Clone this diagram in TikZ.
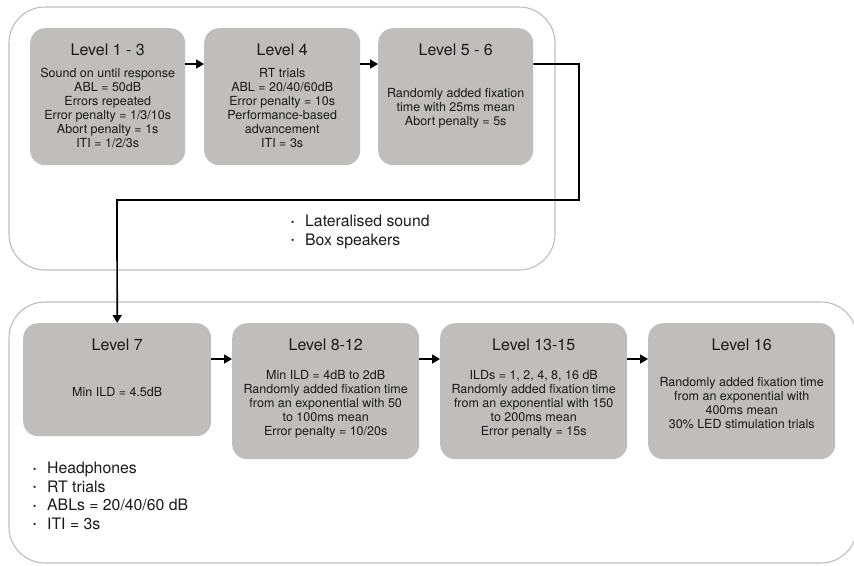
\documentclass[tikz,border=0pt]{standalone}
\usepackage{fontspec}
\setmainfont{TeX Gyre Heros}
\usetikzlibrary{arrows.meta}
\definecolor{boxgray}{HTML}{BFBEBD}
\definecolor{contgray}{HTML}{BDBDBD}
\definecolor{txt}{HTML}{1A1A1A}
\tikzset{
  lvl/.style={draw=none, fill=boxgray, rounded corners=15pt, anchor=north west, inner sep=0pt},
  ttl/.style={text=txt, font=\fontsize{16}{18}\selectfont, inner sep=0pt},
  body/.style={text=txt, font=\fontsize{12.5}{14}\selectfont, align=center, inner sep=0pt},
  cont/.style={draw=contgray, line width=1.1pt, rounded corners=36pt},
  arr/.style={draw=black, line width=1.7pt, -{Triangle[length=8pt,width=9pt]}},
  blt/.style={text=txt, font=\fontsize{15.8}{18.5}\selectfont, align=left, anchor=north west, inner sep=0pt},
}
\newcommand{\bl}{\makebox[14pt][l]{\fontsize{9}{9}\selectfont\raisebox{1.5pt}{•}}}
\begin{document}
\begin{tikzpicture}[x=1pt,y=-1pt]
\path[use as bounding box] (0,0) rectangle (854,565);
\clip (0,0) rectangle (854,565);
\fill[white] (0,0) rectangle (854,565);
% containers
\draw[cont] (9,7) rectangle (555,270);
\draw[cont] (9,302) rectangle (857,563);
% top boxes
\node[lvl, minimum width=155pt, minimum height=137pt] (l13) at (30,28) {};
\node[lvl, minimum width=156pt, minimum height=137pt] (l4) at (204,28) {};
\node[lvl, minimum width=155pt, minimum height=137pt] (l56) at (378,28) {};
\node[ttl] (t13) at ([yshift=-22pt]l13.north) {Level 1 - 3};
\node[ttl] (t4) at ([yshift=-22pt]l4.north) {Level 4};
\node[ttl] (t56) at ([yshift=-22pt]l56.north) {Level 5 - 6};
\node[body] (b13) at ([yshift=-80pt]l13.north) {Sound on until response\\ABL = 50dB\\Errors repeated\\Error penalty = 1/3/10s\\Abort penalty = 1s\\ITI = 1/2/3s};
\node[body] (b4) at ([yshift=-80pt]l4.north) {RT trials\\ABL = 20/40/60dB\\Error penalty = 10s\\Performance-based\\advancement\\ITI = 3s};
\node[body] (b56) at ([yshift=-80pt]l56.north) {Randomly added fixation\\time with 25ms mean\\Abort penalty = 5s};
% bottom boxes
\node[lvl, minimum width=188pt, minimum height=113pt] (l7) at (23,323) {};
\node[lvl, minimum width=187pt, minimum height=136pt] (l812) at (232,323) {};
\node[lvl, minimum width=187pt, minimum height=136pt] (l1315) at (440,323) {};
\node[lvl, minimum width=187pt, minimum height=136pt] (l16) at (648,323) {};
\node[ttl] (t7) at ([yshift=-22pt]l7.north) {Level 7};
\node[ttl] (t812) at ([yshift=-22pt]l812.north) {Level 8-12};
\node[ttl] (t1315) at ([yshift=-22pt]l1315.north) {Level 13-15};
\node[ttl] (t16) at ([yshift=-22pt]l16.north) {Level 16};
\node[body] (b7) at ([yshift=-69pt]l7.north) {Min ILD = 4.5dB};
\node[body] (b812) at ([yshift=-81pt]l812.north) {Min ILD = 4dB to 2dB\\Randomly added fixation time\\from an exponential with 50\\to 100ms mean\\Error penalty = 10/20s};
\node[body] (b1315) at ([yshift=-81pt]l1315.north) {ILDs = 1, 2, 4, 8, 16 dB\\Randomly added fixation time\\from an exponential with 150\\to 200ms mean\\Error penalty = 15s};
\node[body] (b16) at ([yshift=-80pt]l16.north) {Randomly added fixation time\\from an exponential with\\400ms mean\\30\% LED stimulation trials};
% bullets
\node[blt] (btop) at (291,215) {\bl Lateralised sound\\\bl Box speakers};
\node[blt] (bbot) at (33,462) {\bl Headphones\\\bl RT trials\\\bl ABLs = 20/40/60 dB\\\bl ITI = 3s};
% connectors
\draw[arr] ([yshift=-36pt]l13.north east) -- ([yshift=-36pt]l4.north west);
\draw[arr] ([yshift=-36pt]l4.north east) -- ([yshift=-36pt]l56.north west);
\coordinate (c1) at (579,64);
\coordinate (c2) at (579,200);
\coordinate (c3) at (117,200);
\draw[arr] ([yshift=-36pt]l56.north east) -- (c1) -- (c2) -- (c3) -- (l7.north);
\draw[arr] ([yshift=-36pt]l7.north east) -- ([yshift=-36pt]l812.north west);
\draw[arr] ([yshift=-36pt]l812.north east) -- ([yshift=-36pt]l1315.north west);
\draw[arr] ([yshift=-36pt]l1315.north east) -- ([yshift=-36pt]l16.north west);
\end{tikzpicture}
\end{document}
